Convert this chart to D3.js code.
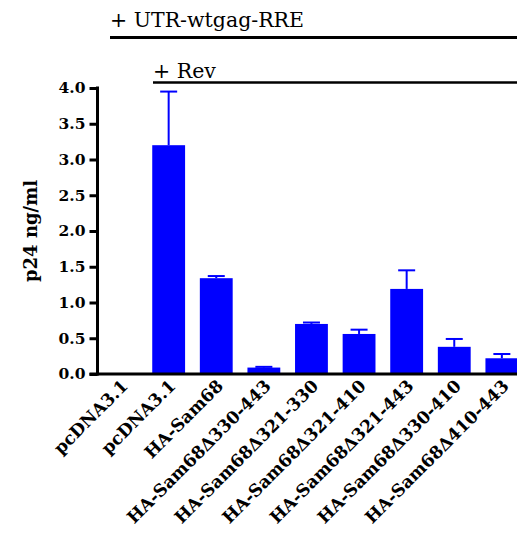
<!DOCTYPE html>
<html>
<head>
<meta charset="utf-8">
<script src="https://cdn.jsdelivr.net/npm/d3@7"></script>
<style>
  html, body { margin: 0; padding: 0; background: #fff; }
  svg { display: block; }
</style>
</head>
<body>
<script>
const categories = ["pcDNA3.1", "pcDNA3.1", "HA-Sam68", "HA-Sam68Δ330-443", "HA-Sam68Δ321-330",
  "HA-Sam68Δ321-410", "HA-Sam68Δ321-443", "HA-Sam68Δ330-410", "HA-Sam68Δ410-443"];
const means = [0, 3.20, 1.34, 0.09, 0.70, 0.56, 1.19, 0.38, 0.22];
const errors = [0, 0.75, 0.03, 0.01, 0.02, 0.06, 0.26, 0.11, 0.06];
const yTicks = [0, 0.5, 1.0, 1.5, 2.0, 2.5, 3.0, 3.5, 4.0];
const yLabel = "p24 ng/ml";
const topLabel = "+ UTR-wtgag-RRE";
const revLabel = "+ Rev";

const W = 517, H = 533;
const svg = d3.select("body").append("svg").attr("width", W).attr("height", H);

const x0 = 97.5, y0 = 374, yTop = 88;
const idx = categories.map((d, i) => i);
const x = d3.scaleBand().domain(idx).range([x0, x0 + 47.6 * (9 - 0.31 + 0.3)])
  .paddingInner(0.31).paddingOuter(0.15);
const y = d3.scaleLinear().domain([0, 4]).range([y0, yTop]);

const serif = "'DejaVu Serif', serif";

// bars
svg.append("g").selectAll("rect").data(idx.filter(i => means[i] > 0)).join("rect")
  .attr("x", i => x(i)).attr("width", x.bandwidth())
  .attr("y", i => y(means[i])).attr("height", i => y0 - y(means[i]))
  .attr("fill", "#0000ff");

// error bars
const eb = svg.append("g").attr("stroke", "#0000ff").attr("stroke-width", 2);
idx.filter(i => means[i] > 0).forEach(i => {
  const cx = x(i) + x.bandwidth() / 2;
  eb.append("line").attr("x1", cx).attr("x2", cx).attr("y1", y(means[i])).attr("y2", y(means[i] + errors[i]));
  eb.append("line").attr("x1", cx - 8.5).attr("x2", cx + 8.5).attr("y1", y(means[i] + errors[i])).attr("y2", y(means[i] + errors[i]));
});

// y axis
const yAxis = svg.append("g").attr("transform", `translate(${x0},0)`)
  .call(d3.axisLeft(y).tickValues(yTicks).tickFormat(d3.format(".1f")).tickSize(8).tickPadding(4).tickSizeOuter(0));
yAxis.select(".domain").attr("stroke", "#000").attr("stroke-width", 3).attr("d", `M0,${yTop - 1.5}V${y0 + 1.5}`);
yAxis.selectAll(".tick line").attr("stroke", "#000").attr("stroke-width", 3);
yAxis.selectAll(".tick text").attr("font-family", serif).attr("font-weight", "bold")
  .attr("font-size", 15.5).attr("fill", "#000");

// x axis line
svg.append("line").attr("x1", x0 - 8).attr("x2", W).attr("y1", y0).attr("y2", y0)
  .attr("stroke", "#000").attr("stroke-width", 3);

// x labels
svg.append("g").selectAll("text").data(idx).join("text")
  .attr("transform", i => `translate(${x(i) + x.bandwidth() / 2 + 8},${y0 + 13}) rotate(-45)`)
  .attr("text-anchor", "end")
  .attr("font-family", serif).attr("font-weight", "bold").attr("font-size", 17.2)
  .text(i => categories[i]);

// y label
svg.append("text").attr("transform", `translate(37,${(y0 + yTop) / 2}) rotate(-90)`)
  .attr("text-anchor", "middle").attr("font-family", serif).attr("font-weight", "bold")
  .attr("font-size", 18).text(yLabel);

// top annotations
svg.append("text").attr("x", 110).attr("y", 27).attr("font-family", serif).attr("font-size", 20.5).text(topLabel);
svg.append("line").attr("x1", 110).attr("x2", W).attr("y1", 37.5).attr("y2", 37.5).attr("stroke", "#000").attr("stroke-width", 3);
svg.append("text").attr("x", 153).attr("y", 78).attr("font-family", serif).attr("font-size", 20.5).text(revLabel);
svg.append("line").attr("x1", 153).attr("x2", W).attr("y1", 82.5).attr("y2", 82.5).attr("stroke", "#000").attr("stroke-width", 2.5);
</script>
</body>
</html>
